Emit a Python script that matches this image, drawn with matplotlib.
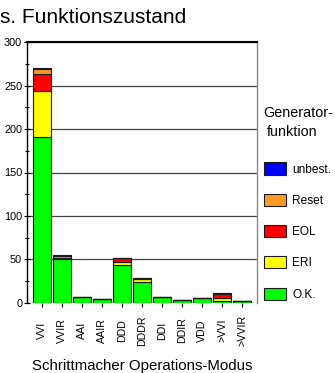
import matplotlib
matplotlib.use("Agg")
import matplotlib.pyplot as plt
from matplotlib.patches import Patch
import numpy as np

modes = ["VVI", "VVIR", "AAI", "AAIR", "DDD", "DDDR", "DDI", "DDIR", "VDD", ">VVI", ">VVIR"]
ok = [191, 50, 7, 4, 44, 24, 7, 3, 5, 2, 2]
eri = [53, 2, 0, 0, 3, 3, 0, 0, 0, 3, 0]
eol = [20, 0, 0, 0, 4, 0, 0, 0, 0, 5, 0]
reset = [5, 2, 0, 0, 1, 1, 0, 0, 0, 1, 0]
unbest = [1, 1, 0, 0, 0, 0, 0, 0, 0, 0, 0]

series = [("O.K.", ok, "#00ff00"), ("ERI", eri, "#ffff00"), ("EOL", eol, "#ff0000"),
          ("Reset", reset, "#ff9922"), ("unbest.", unbest, "#0000ff")]

plt.rcParams['font.family'] = ['Liberation Sans', 'DejaVu Sans']
W, H = 335, 373
fig = plt.figure(figsize=(W / 100, H / 100), dpi=100)
ax = fig.add_axes([27 / W, 1 - 302.7 / H, (257 - 27) / W, (302.7 - 42.3) / H])

x = np.arange(len(modes))
bottom = np.zeros(len(modes))
for name, vals, col in series:
    v = np.array(vals, dtype=float)
    ax.bar(x, v, bottom=bottom, width=0.9, color=col, edgecolor="#1a1a1a", linewidth=0.8, zorder=3)
    bottom += v

ax.set_ylim(0, 300)
ax.set_xlim(-0.75, 10.75)
ax.set_yticks(np.arange(0, 301, 50))
ax.set_yticks(np.arange(0, 301, 25), minor=True)
ax.yaxis.grid(True, color="#444444", linewidth=0.9, zorder=0)
ax.set_axisbelow(True)
ax.tick_params(axis='y', which='major', direction='inout', length=5, width=0.8, labelsize=7.8, pad=1)
ax.tick_params(axis='y', which='minor', direction='inout', length=3, width=0.8)
ax.set_xticks(x)
ax.set_xticklabels(modes, rotation=90, fontsize=7.7, va='center', ha='center')
ax.tick_params(axis='x', direction='out', length=3, width=0.8, pad=17)

ax.spines['bottom'].set_visible(False)
ax.spines['top'].set_linewidth(1.5)
ax.spines['top'].set_color("black")
ax.spines['left'].set_linewidth(1.0)
ax.spines['right'].set_color("#888888")
ax.spines['right'].set_linewidth(1.0)

fig.text(142 / W, 1 - 370 / H, "Schrittmacher Operations-Modus", ha="center", va="baseline", fontsize=10.8)
fig.text(0.0, 1 - 22.7 / H, "s. Funktionszustand", ha="left", va="baseline", fontsize=15)
fig.text(4 / W, 1 - 281 / H, "Anzahl", ha="right", va="center", rotation=90, fontsize=9)

fig.text(297.7 / W, 1 - 116.7 / H, "Generator-", ha="center", va="baseline", fontsize=10.4)
fig.text(292 / W, 1 - 136 / H, "funktion", ha="center", va="baseline", fontsize=10.4)

handles = [Patch(facecolor=col, edgecolor="#1a1a1a", linewidth=0.8, label=name)
           for name, vals, col in series[::-1]]
leg = fig.legend(handles=handles, loc="upper left",
                 bbox_to_anchor=(264 / W, 1 - 162.5 / H), bbox_transform=fig.transFigure,
                 frameon=False, fontsize=8.6, borderpad=0, borderaxespad=0,
                 handlelength=1.86, handleheight=1.19,
                 labelspacing=1.52, handletextpad=0.5)

fig.savefig("out.png", dpi=100)
